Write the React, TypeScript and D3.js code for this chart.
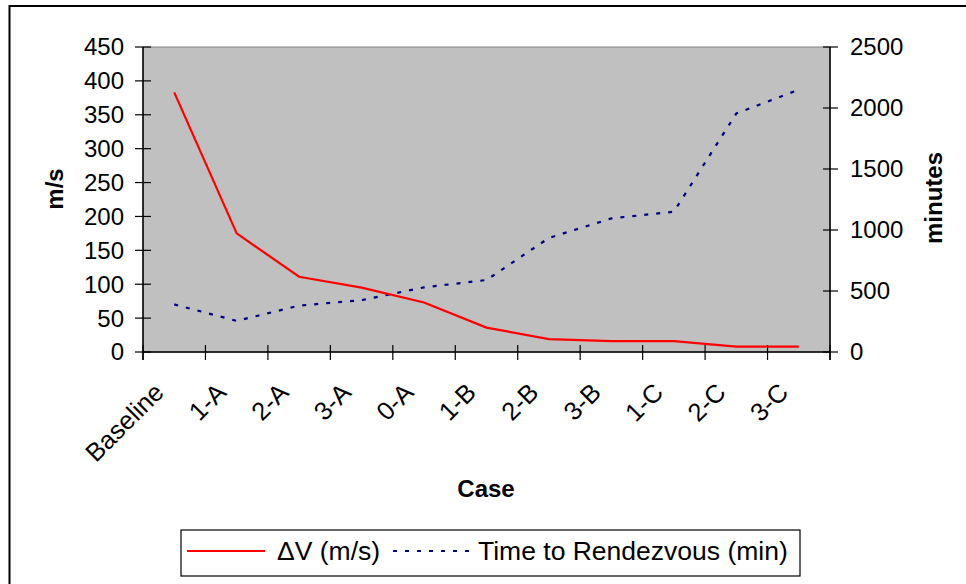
import React from "react";
import * as d3 from "d3";

const categories = ["Baseline", "1-A", "2-A", "3-A", "0-A", "1-B", "2-B", "3-B", "1-C", "2-C", "3-C"];
const deltaV = [383, 175, 111, 95, 73, 36, 19, 16, 16, 8, 8];
const timeToRendezvous = [390, 255, 380, 425, 530, 590, 935, 1095, 1150, 1955, 2150];
const leftTicks = [0, 50, 100, 150, 200, 250, 300, 350, 400, 450];
const rightTicks = [0, 500, 1000, 1500, 2000, 2500];

const W = 966;
const H = 584;
const plot = { left: 143, right: 830, top: 47, bottom: 352 };
const FONT = "Liberation Sans, Arial, sans-serif";

export default function App() {
  const x = d3.scaleBand<string>().domain(categories).range([plot.left, plot.right]).padding(0);
  const yL = d3.scaleLinear().domain([0, 450]).range([plot.bottom, plot.top]);
  const yR = d3.scaleLinear().domain([0, 2500]).range([plot.bottom, plot.top]);
  const cx = (c: string) => (x(c) ?? 0) + x.bandwidth() / 2;

  const lineL = d3.line<number>().x((_, i) => cx(categories[i])).y((d) => yL(d));
  const lineR = d3.line<number>().x((_, i) => cx(categories[i])).y((d) => yR(d));

  const boundaries = d3.range(categories.length + 1).map((i) => plot.left + i * x.bandwidth());

  return (
    <svg width={W} height={H} style={{ position: "absolute", left: 0, top: 0 }} fontFamily={FONT}>
      <rect x={0} y={0} width={W} height={H} fill="#fff" />
      {/* outer chart border */}
      <rect x={9.5} y={6} width={W + 20} height={H + 20} fill="none" stroke="#000" strokeWidth={2} />
      {/* plot area */}
      <rect x={plot.left} y={plot.top} width={plot.right - plot.left} height={plot.bottom - plot.top} fill="#C0C0C0" stroke="#808080" strokeWidth={1} />

      {/* series */}
      <path d={lineR(timeToRendezvous) ?? ""} fill="none" stroke="#000080" strokeWidth={2.2} strokeDasharray="4 8" />
      <path d={lineL(deltaV) ?? ""} fill="none" stroke="#FF0000" strokeWidth={2.2} />

      {/* left axis */}
      <line x1={plot.left} x2={plot.left} y1={plot.top} y2={plot.bottom + 8} stroke="#000" strokeWidth={1.5} />
      {leftTicks.map((t) => (
        <g key={"l" + t}>
          <line x1={plot.left - 8} x2={plot.left + 8} y1={yL(t)} y2={yL(t)} stroke="#000" strokeWidth={1.2} />
          <text x={124} y={yL(t)} dy="0.35em" textAnchor="end" fontSize={24} fill="#000">{t}</text>
        </g>
      ))}

      {/* right axis */}
      <line x1={plot.right} x2={plot.right} y1={plot.top} y2={plot.bottom + 8} stroke="#000" strokeWidth={1.5} />
      {rightTicks.map((t) => (
        <g key={"r" + t}>
          <line x1={plot.right - 7} x2={plot.right + 8} y1={yR(t)} y2={yR(t)} stroke="#000" strokeWidth={1.2} />
          <text x={850} y={yR(t)} dy="0.35em" textAnchor="start" fontSize={24} fill="#000">{t}</text>
        </g>
      ))}

      {/* x axis */}
      <line x1={plot.left} x2={plot.right} y1={plot.bottom} y2={plot.bottom} stroke="#000" strokeWidth={1.5} />
      {boundaries.map((b, i) => (
        <line key={"xt" + i} x1={b} x2={b} y1={plot.bottom - 7} y2={plot.bottom + 8} stroke="#000" strokeWidth={1.2} />
      ))}
      {categories.map((c) => (
        <text key={c} transform={`translate(${cx(c) - 9},${plot.bottom + 42}) rotate(-45)`} textAnchor="end" fontSize={25.5} fill="#000">
          {c}
        </text>
      ))}

      {/* axis titles */}
      <text transform={`translate(63,189) rotate(-90)`} textAnchor="middle" fontSize={24} fontWeight="bold" fill="#000">m/s</text>
      <text transform={`translate(942,198) rotate(-90)`} textAnchor="middle" fontSize={24} fontWeight="bold" fill="#000">minutes</text>
      <text x={486} y={497} textAnchor="middle" fontSize={24} fontWeight="bold" fill="#000">Case</text>

      {/* legend */}
      <rect x={181} y={530} width={619} height={46} fill="#fff" stroke="#000" strokeWidth={1.2} />
      <line x1={187} x2={265} y1={551} y2={551} stroke="#FF0000" strokeWidth={2.2} />
      <text x={277} y={551} dy="0.35em" fontSize={26.5} fill="#000">ΔV (m/s)</text>
      <line x1={393} x2={470} y1={551} y2={551} stroke="#000080" strokeWidth={2.2} strokeDasharray="4 8" />
      <text x={478} y={551} dy="0.35em" fontSize={26.5} fill="#000">Time to Rendezvous (min)</text>
    </svg>
  );
}
